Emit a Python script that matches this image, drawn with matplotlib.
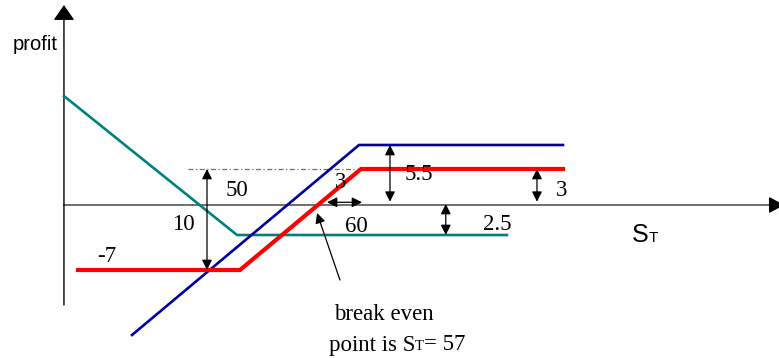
import matplotlib
matplotlib.use("Agg")
import matplotlib.pyplot as plt
from matplotlib.offsetbox import TextArea, HPacker, AnnotationBbox

# schematic payoff lines (S_T, profit) as drawn
teal_s = [35.58, 50.0, 72.5]
teal_p = [10.9, -3.0, -3.0]
red_s  = [36.75, 50.25, 60.33, 77.17]
red_p  = [-6.5, -6.5, 3.6, 3.6]
blue_s = [41.25, 60.17, 77.17]
blue_p = [-13.0, 6.0, 6.0]

# axes of the sketch
Y_AXIS_S = 35.58
Y_AXIS_BOTTOM, Y_AXIS_TOP = -10.0, 20.0
X_AXIS_END = 95.6

# dimension arrows: (x0, y0, x1, y1)
dim_arrows = [
    (47.5, 3.6, 47.5, -6.5),
    (57.5, 0.27, 60.42, 0.27),
    (62.75, 6.0, 62.75, 0.33),
    (75.0, 3.6, 75.0, 0.33),
    (67.4, 0.1, 67.4, -3.0),
]

# labels: (text, S, profit)
labels = [
    ("50", 50.0, 1.4),
    ("10", 45.5, -1.9),
    ("3", 58.67, 2.2),
    ("60", 59.92, -2.1),
    ("5.5", 65.17, 3.1),
    ("3", 77.08, 1.5),
    ("2.5", 71.67, -1.9),
    ("-7", 39.17, -5.2),
    ("break even", 62.25, -11.0),
]

SERIF = "Liberation Serif"
SANS = "Liberation Sans"

fig = plt.figure(figsize=(7.79, 3.58), dpi=100)
ax = fig.add_axes([0, 0, 1, 1])
ax.set_xlim(30.25, 95.17)
ax.set_ylim(-15.3, 20.5)
ax.axis("off")

# axes lines
ax.plot([Y_AXIS_S, X_AXIS_END - 1.0], [0, 0], color="#707070", lw=1.4, zorder=1)
ax.annotate("", xy=(X_AXIS_END, 0), xytext=(X_AXIS_END - 1.2, 0),
            arrowprops=dict(arrowstyle="-|>,head_length=0.67,head_width=0.36",
                            color="black", lw=1, shrinkA=0, shrinkB=0,
                            mutation_scale=14), annotation_clip=False)
ax.annotate("", xy=(Y_AXIS_S, Y_AXIS_TOP), xytext=(Y_AXIS_S, Y_AXIS_BOTTOM),
            arrowprops=dict(arrowstyle="-|>,head_length=0.67,head_width=0.46",
                            color="black", lw=1, shrinkA=0, shrinkB=0,
                            mutation_scale=14), annotation_clip=False)

# dash-dot reference line
ax.plot([45.92, 60.0], [3.6, 3.6], color="#707070", lw=0.9,
        linestyle=(0, (4, 2, 1, 2)), zorder=1)

# payoff lines
ax.plot(teal_s, teal_p, color="#008080", lw=1.9, zorder=3)
ax.plot(blue_s, blue_p, color="#0000A0", lw=1.9, zorder=3)
ax.plot(red_s, red_p, color="#FF0000", lw=3.0, zorder=4)

for x0, y0, x1, y1 in dim_arrows:
    ax.annotate("", xy=(x1, y1), xytext=(x0, y0),
                arrowprops=dict(arrowstyle="<|-|>,head_length=0.6,head_width=0.3",
                                color="black", lw=0.9, shrinkA=0, shrinkB=0,
                                mutation_scale=10), zorder=5)

# break-even pointer
ax.annotate("", xy=(56.67, -0.8), xytext=(58.58, -7.5),
            arrowprops=dict(arrowstyle="-|>,head_length=0.6,head_width=0.3",
                            color="black", lw=0.9, shrinkA=0, shrinkB=0,
                            mutation_scale=10), zorder=5)

for txt, x, y in labels:
    ax.text(x, y, txt, fontsize=16.5, family=SERIF, ha="center", va="center", zorder=6)

ax.text(33.17, 16.0, "profit", fontsize=14.5, family=SANS, ha="center", va="center")

# S_T on the horizontal axis
st = HPacker(children=[TextArea("S", textprops=dict(fontsize=18, family=SANS)),
                       TextArea("T", textprops=dict(fontsize=11, family=SANS))],
             align="baseline", pad=0, sep=0)
ax.add_artist(AnnotationBbox(st, (84.0, -3.0), xycoords="data",
                             box_alignment=(0.5, 0.5), frameon=False, pad=0))

# break-even point text
be = HPacker(children=[TextArea("point is S", textprops=dict(fontsize=16.5, family=SERIF)),
                       TextArea("T", textprops=dict(fontsize=10.5, family=SERIF)),
                       TextArea("= 57", textprops=dict(fontsize=16.5, family=SERIF))],
             align="baseline", pad=0, sep=0)
ax.add_artist(AnnotationBbox(be, (63.33, -14.0), xycoords="data",
                             box_alignment=(0.5, 0.5), frameon=False, pad=0))

fig.savefig("out.png", dpi=100)
